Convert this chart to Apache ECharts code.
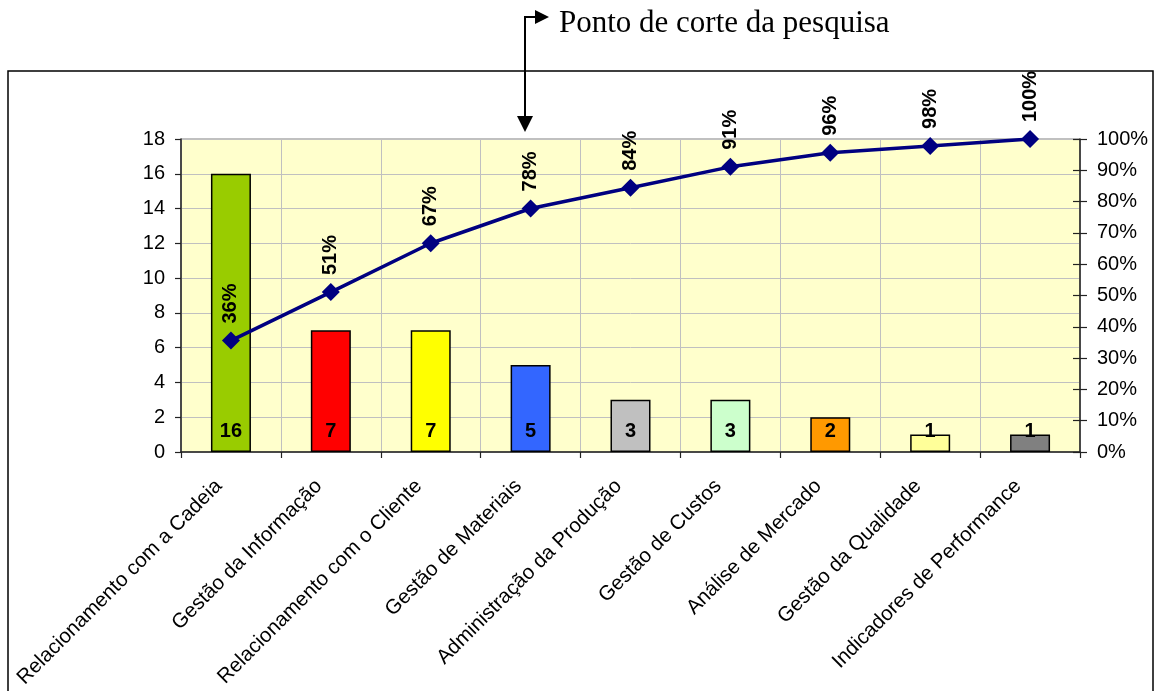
<!DOCTYPE html>
<html>
<head>
<meta charset="utf-8">
<script src="https://cdn.jsdelivr.net/npm/echarts@6/dist/echarts.min.js"></script>
<style>
html,body{margin:0;padding:0;background:#fff;}
#chart{width:1158px;height:691px;}
</style>
</head>
<body>
<div id="chart"></div>
<script>
var categories = ['Relacionamento com a Cadeia','Gestão da Informação','Relacionamento com o Cliente','Gestão de Materiais','Administração da Produção','Gestão de Custos','Análise de Mercado','Gestão da Qualidade','Indicadores de Performance'];
var counts = [16, 7, 7, 5, 3, 3, 2, 1, 1];
var cumulative = [0.356, 0.511, 0.667, 0.778, 0.844, 0.911, 0.956, 0.978, 1.0];
var barColors = ['#99CC00','#FF0000','#FFFF00','#3366FF','#C0C0C0','#CCFFCC','#FF9900','#FFFF99','#808080'];
var leftTicks = {min: 0, max: 18, interval: 2};
var rightTicks = {min: 0, max: 1, interval: 0.1};
var annotation = 'Ponto de corte da pesquisa';

var chart = echarts.init(document.getElementById('chart'), null, {renderer: 'canvas'});
var font = 'Liberation Sans, Arial, sans-serif';
var option = {
  animation: false,
  textStyle: {fontFamily: font},
  grid: {left: 181, right: 78, top: 139, bottom: 239, containLabel: false, outerBoundsMode: 'none',
         show: true, backgroundColor: '#FFFFCC', borderColor: '#808080', borderWidth: 1},
  xAxis: {
    type: 'category', data: categories,
    axisLine: {lineStyle: {color: '#222', width: 1.5}},
    axisTick: {show: true, length: 6, lineStyle: {color: '#222', width: 1.2}},
    splitLine: {show: true, lineStyle: {color: '#C0C0C0', width: 1}},
    axisLabel: {rotate: 45, fontSize: 20.5, color: '#000', fontFamily: font, margin: 19, interval: 0, padding: [0, 17, 0, 0]}
  },
  yAxis: [
    {type: 'value', min: leftTicks.min, max: leftTicks.max, interval: leftTicks.interval, position: 'left',
     axisLine: {show: true, lineStyle: {color: '#222', width: 1.5}},
     axisTick: {show: true, length: 6, lineStyle: {color: '#222', width: 1.2}},
     splitLine: {show: true, lineStyle: {color: '#C0C0C0', width: 1}},
     axisLabel: {fontSize: 20, color: '#000', fontFamily: font, margin: 16}},
    {type: 'value', min: rightTicks.min, max: rightTicks.max, interval: rightTicks.interval, position: 'right',
     axisLine: {show: true, lineStyle: {color: '#222', width: 1.5}},
     axisTick: {show: true, length: 7, lineStyle: {color: '#222', width: 1.2}},
     splitLine: {show: false},
     axisLabel: {fontSize: 20, color: '#000', fontFamily: font, margin: 17,
       formatter: function (v) { return Math.round(v * 100) + '%'; }}},
    {type: 'value', min: rightTicks.min, max: rightTicks.max, interval: rightTicks.interval, position: 'right',
     axisLine: {show: false},
     axisTick: {show: true, inside: true, length: 7, lineStyle: {color: '#222', width: 1.2}},
     splitLine: {show: false}, axisLabel: {show: false}}
  ],
  series: [
    {type: 'bar', data: counts.map(function (v, i) { return {value: v, itemStyle: {color: barColors[i]}}; }),
     barWidth: 40, yAxisIndex: 0,
     itemStyle: {borderColor: '#000', borderWidth: 1.5},
     label: {show: true, position: 'insideBottom', distance: 11, fontSize: 20, fontWeight: 'bold', color: '#000', fontFamily: font}},
    {type: 'line', data: cumulative, yAxisIndex: 1, symbol: 'diamond', symbolSize: 18,
     lineStyle: {color: '#000080', width: 3.5}, itemStyle: {color: '#000080'},
     label: {show: true, position: 'top', distance: 8, rotate: 90, align: 'left', verticalAlign: 'middle',
       fontSize: 20, fontWeight: 'bold', color: '#000', fontFamily: font,
       formatter: function (p) { return Math.round(p.value * 100) + '%'; }}}
  ],
  graphic: [
    {type: 'rect', shape: {x: 8, y: 71, width: 1145, height: 640}, style: {fill: 'none', stroke: '#000', lineWidth: 1.5}, z: 100},
    {type: 'text', left: 559, top: 8, style: {text: annotation, font: '31px "Liberation Serif", "Times New Roman", serif', fill: '#000'}, z: 100},
    {type: 'polyline', shape: {points: [[525, 118], [525, 17], [538, 17]]}, style: {stroke: '#000', lineWidth: 2, fill: 'none'}, z: 100},
    {type: 'polygon', shape: {points: [[517, 116], [533, 116], [525, 132]]}, style: {fill: '#000'}, z: 100},
    {type: 'polygon', shape: {points: [[535, 10], [535, 24], [549, 17]]}, style: {fill: '#000'}, z: 100}
  ]
};
chart.setOption(option);
</script>
</body>
</html>
